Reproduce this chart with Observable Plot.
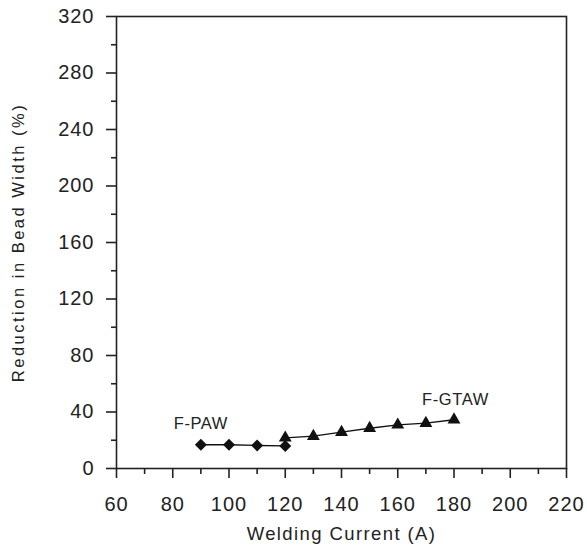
<!DOCTYPE html>
<html>
<head>
<meta charset="utf-8">
<script src="https://cdn.jsdelivr.net/npm/d3@7"></script>
<script src="https://cdn.jsdelivr.net/npm/@observablehq/plot@0.6"></script>
<style>
  html, body { margin: 0; padding: 0; background: #fff; }
</style>
</head>
<body>
<div id="chart"></div>
<script>
// Data
const pawCurrent = [90, 100, 110, 120];
const pawReduction = [16.8, 16.8, 16.3, 16.0];
const gtawCurrent = [120, 130, 140, 150, 160, 170, 180];
const gtawReduction = [21.7, 22.9, 25.7, 28.5, 30.9, 32.1, 34.5];
const xMajorTicks = [60, 80, 100, 120, 140, 160, 180, 200, 220];
const xMinorTicks = [70, 90, 110, 130, 150, 170, 190, 210];
const yMajorTicks = [0, 40, 80, 120, 160, 200, 240, 280, 320];
const yMinorTicks = [20, 60, 100, 140, 180, 220, 260, 300];
const seriesLabels = [
  {text: "F-PAW", x: 90, y: 32},
  {text: "F-GTAW", x: 180.5, y: 48.6}
];

const paw = pawCurrent.map((x, i) => ({x, y: pawReduction[i]}));
const gtaw = gtawCurrent.map((x, i) => ({x, y: gtawReduction[i]}));

const chart = Plot.plot({
  width: 587,
  height: 553,
  marginLeft: 116,
  marginRight: 21,
  marginTop: 16,
  marginBottom: 85,
  style: {fontFamily: "'Liberation Sans', Arial, sans-serif", fontSize: "18px", color: "#222", background: "#fff"},
  x: {domain: [60, 220]},
  y: {domain: [0, 320]},
  marks: [
    Plot.frame({stroke: "#222", strokeWidth: 1.6}),
    Plot.axisX({ticks: xMinorTicks, tickSize: 6, tickFormat: () => "", strokeWidth: 1.6, label: null}),
    Plot.axisX({ticks: xMajorTicks, tickSize: 10, tickPadding: 18, strokeWidth: 1.6, fontSize: 20, label: null}),
    Plot.axisX({ticks: [], label: "Welding Current (A)", labelAnchor: "center", labelArrow: "none", labelOffset: 71, fontSize: 18.5}),
    Plot.axisY({ticks: yMinorTicks, tickSize: 5, tickFormat: () => "", strokeWidth: 1.6, label: null}),
    Plot.axisY({ticks: yMajorTicks, tickSize: 10, tickPadding: 12, strokeWidth: 1.6, fontSize: 20, label: null}),
    Plot.axisY({ticks: [], label: "Reduction in Bead Width (%)", labelAnchor: "center", labelArrow: "none", labelOffset: 104, fontSize: 16.5}),
    Plot.line(paw, {x: "x", y: "y", stroke: "#111", strokeWidth: 1.3}),
    Plot.line(gtaw, {x: "x", y: "y", stroke: "#111", strokeWidth: 1.3}),
    Plot.dot(paw, {x: "x", y: "y", symbol: "diamond2", r: 5.4, fill: "#111", stroke: "none"}),
    Plot.dot(gtaw, {x: "x", y: "y", symbol: "triangle", r: 4.8, fill: "#111", stroke: "none"}),
    Plot.text(seriesLabels, {x: "x", y: "y", text: "text", fill: "#222", fontSize: 16.5})
  ]
});
// letter spacing, as in the reference typesetting
const spacing = (sel, v) => chart.querySelectorAll(sel).forEach(g => {
  g.setAttribute("letter-spacing", v);
  g.querySelectorAll("text").forEach(t => t.setAttribute("letter-spacing", v));
});
spacing("g[aria-label$='tick label']", "1px");
spacing("g[aria-label='x-axis label']", "1.4px");
spacing("g[aria-label='y-axis label']", "2.5px");
spacing("g[aria-label='text']", "0.6px");
document.getElementById("chart").appendChild(chart);
</script>
</body>
</html>
